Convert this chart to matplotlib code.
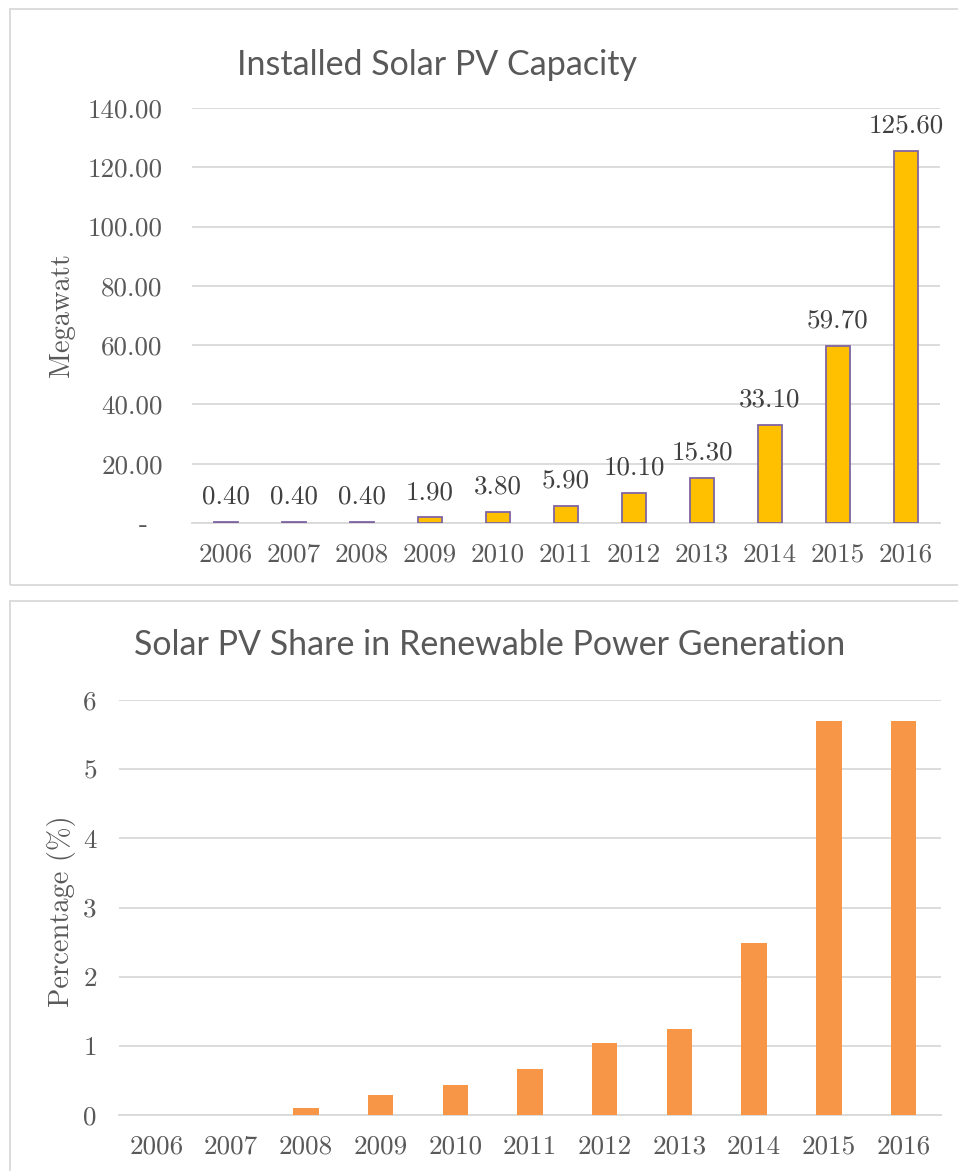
import matplotlib
matplotlib.use('Agg')
import matplotlib.pyplot as plt
import matplotlib.patches as patches
from matplotlib.transforms import ScaledTranslation

# data
years = ['2006', '2007', '2008', '2009', '2010', '2011', '2012', '2013', '2014', '2015', '2016']
capacity_mw = [0.40, 0.40, 0.40, 1.90, 3.80, 5.90, 10.10, 15.30, 33.10, 59.70, 125.60]
share_pct = [0.0, 0.0, 0.10, 0.29, 0.43, 0.67, 1.04, 1.24, 2.49, 5.69, 5.69]

cap_ticks = [0, 20, 40, 60, 80, 100, 120, 140]
cap_ticklabels = ['-', '20.00', '40.00', '60.00', '80.00', '100.00', '120.00', '140.00']
share_ticks = [0, 1, 2, 3, 4, 5, 6]
share_ticklabels = ['0', '1', '2', '3', '4', '5', '6']

W, H = 958, 1171
serif = ['cmr10', 'DejaVu Serif']
sans = ['Lato', 'DejaVu Sans']
txt = '#595959'
grid = '#D9D9D9'
fs = 19.5

fig = plt.figure(figsize=(W / 100, H / 100), dpi=100)


def frac(x0, y_top, x1, y_bot):
    # pixel box (y down) -> figure fraction [l, b, w, h]
    return [x0 / W, 1 - y_bot / H, (x1 - x0) / W, (y_bot - y_top) / H]


def style_axes(ax, ticks, labels, ylim, ypad):
    ax.set_xlim(-0.5, len(years) - 0.5)
    ax.set_ylim(*ylim)
    ax.set_yticks(ticks)
    ax.set_yticklabels(labels, fontfamily=serif, fontsize=fs, color=txt)
    ax.set_xticks(range(len(years)))
    ax.set_xticklabels(years, fontfamily=serif, fontsize=fs, color=txt)
    ax.tick_params(axis='y', length=0, pad=ypad)
    ax.tick_params(axis='x', length=0, pad=14)
    ax.yaxis.grid(True, color=grid, lw=1.3)
    ax.set_axisbelow(True)
    for s in ['top', 'right', 'left']:
        ax.spines[s].set_visible(False)
    ax.spines['bottom'].set_color(grid)
    ax.spines['bottom'].set_linewidth(1.3)


# chart borders
for y_top, y_bot in [(9, 584.5), (601, 1200)]:
    l, b, w, h = frac(9.5, y_top, 1000, y_bot)
    fig.patches.append(patches.Rectangle((l, b), w, h, transform=fig.transFigure,
                                         fill=False, edgecolor=grid, lw=1.3))

# top chart: installed capacity
ax1 = fig.add_axes(frac(192, 108, 940, 523))
ax1.bar(range(len(years)), capacity_mw, width=0.34, color='#FFC000',
        edgecolor='#8064A2', linewidth=1.3, zorder=3)
style_axes(ax1, cap_ticks, cap_ticklabels, (0, 140), 21)
# shift the "-" zero label left like Excel accounting format
zero_lab = ax1.yaxis.get_major_ticks()[0].label1
zero_lab.set_transform(zero_lab.get_transform() + ScaledTranslation(-0.15, 0, fig.dpi_scale_trans))
for i, v in enumerate(capacity_mw):
    ax1.annotate('%.2f' % v, (i, v), xytext=(0, 18), textcoords='offset points',
                 ha='center', va='center', fontfamily=serif, fontsize=fs, color='#404040')
fig.text(437 / W, 1 - 65 / H, 'Installed Solar PV Capacity', ha='center', va='center',
         fontfamily=sans, fontsize=24.5, color=txt)
fig.text(62 / W, 1 - 315 / H, 'Megawatt', ha='center', va='center', rotation=90,
         fontfamily=serif, fontsize=20.5, color=txt)

# bottom chart: share in renewable generation
ax2 = fig.add_axes(frac(119, 700, 941, 1115))
ax2.bar(range(len(years)), share_pct, width=0.34, color='#F79646', zorder=3)
style_axes(ax2, share_ticks, share_ticklabels, (0, 6), 16)
fig.text(489.5 / W, 1 - 645 / H, 'Solar PV Share in Renewable Power Generation',
         ha='center', va='center', fontfamily=sans, fontsize=24.5, color=txt)
fig.text(62 / W, 1 - 911 / H, 'Percentage (%)', ha='center', va='center', rotation=90,
         fontfamily=serif, fontsize=20.5, color=txt)

fig.savefig('out.png', dpi=100)
